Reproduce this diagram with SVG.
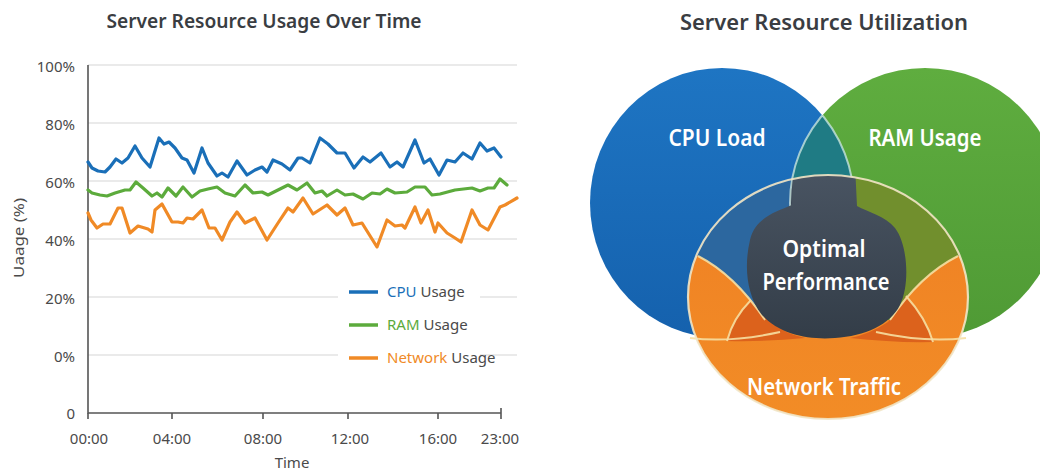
<svg xmlns="http://www.w3.org/2000/svg" width="1040" height="472" viewBox="0 0 1040 472">
<style>
.title{font-family:"Noto Sans","Open Sans",sans-serif;font-weight:600;fill:#3a3d42;text-anchor:middle}
.ax{font-family:"Noto Sans","Open Sans",sans-serif;font-size:15px;fill:#4a4a4a}
.grid{stroke:#e3e3e3;stroke-width:1.5;fill:none}
.axis{stroke:#555;stroke-width:1.6;fill:none}
.ser{fill:none;stroke-width:3.2;stroke-linejoin:round;stroke-linecap:round}
.leg{font-family:"Noto Sans","Open Sans",sans-serif;font-size:15px;fill:#4a4a4a}
.vl{font-family:"Noto Sans","Open Sans",sans-serif;font-weight:600;fill:#ffffff;text-anchor:middle}
.glow{fill:none;stroke:#f6dfa2;stroke-width:2;opacity:.9}
</style>
<defs>
<clipPath id="cBlue"><ellipse cx="722" cy="203" rx="132" ry="135"/></clipPath>
<clipPath id="cGreen"><ellipse cx="925" cy="203" rx="135" ry="135"/></clipPath>
<clipPath id="cOrange"><ellipse cx="828" cy="297" rx="140" ry="122"/></clipPath>
<clipPath id="cCap"><path d="M660,150 L660,248 L698,256 Q735,275 765,320 L890,320 Q920,275 958,256 L1000,248 L1000,150 Z"/></clipPath>
<linearGradient id="gBlue" x1="0" y1="0" x2="0" y2="1"><stop offset="0" stop-color="#1e75c3"/><stop offset="1" stop-color="#1561ad"/></linearGradient>
<linearGradient id="gGreen" x1="0" y1="0" x2="0" y2="1"><stop offset="0" stop-color="#5fad3f"/><stop offset="1" stop-color="#4f9a35"/></linearGradient>
<linearGradient id="gOrange" x1="0" y1="0" x2="0" y2="1"><stop offset="0" stop-color="#ef8024"/><stop offset="1" stop-color="#f28c26"/></linearGradient>
<linearGradient id="gSlate" x1="0" y1="0" x2="0" y2="1"><stop offset="0" stop-color="#4a5563"/><stop offset="1" stop-color="#333d48"/></linearGradient>
</defs>
<rect width="1040" height="472" fill="#ffffff"/>

<g id="line-chart">
<text class="title" x="264" y="28" font-size="19" textLength="315" lengthAdjust="spacingAndGlyphs">Server Resource Usage Over Time</text>
<g id="grid">
<line class="grid" x1="88" y1="65" x2="517" y2="65"/>
<line class="grid" x1="88" y1="123" x2="517" y2="123"/>
<line class="grid" x1="88" y1="181" x2="517" y2="181"/>
<line class="grid" x1="88" y1="239" x2="517" y2="239"/>
<line class="grid" x1="88" y1="297" x2="517" y2="297"/>
<line class="grid" x1="88" y1="355" x2="517" y2="355"/>
</g>
<g id="axes">
<path class="axis" d="M88,65 V413 H501"/>
<path class="axis" d="M88,413 v6 M172,413 v6 M263,413 v6 M348,413 v6 M438,413 v6 M501,408 v11"/>
</g>
<g id="y-labels" class="ax" text-anchor="end">
<text x="75" y="72">100%</text>
<text x="75" y="130">80%</text>
<text x="75" y="188">60%</text>
<text x="75" y="246">40%</text>
<text x="75" y="304">20%</text>
<text x="75" y="362">0%</text>
<text x="75" y="419">0</text>
</g>
<g id="x-labels" class="ax" text-anchor="middle">
<text x="89" y="444">00:00</text>
<text x="172" y="444">04:00</text>
<text x="263" y="444">08:00</text>
<text x="350" y="444">12:00</text>
<text x="438" y="444">16:00</text>
<text x="500" y="444">23:00</text>
</g>
<text class="ax" x="292" y="468" text-anchor="middle" font-size="16">Time</text>
<text class="ax" transform="translate(24,238) rotate(-90)" text-anchor="middle" font-size="16" textLength="80" lengthAdjust="spacingAndGlyphs">Uaage (%)</text>
<g id="series">
<polyline class="ser" stroke="#f08a26" points="88,213 91,220 97,228 103,224 110,224 118,208 122,208 130,233 138,226 148,229 152,232 155,210 162,204 172,222 178,222 183,223 187,218 193,219 202,210 209,228 215,228 222,240 230,222 237,212 245,223 255,218 267,240 278,223 288,208 293,212 303,198 313,214 327,205 337,215 345,208 353,225 362,223 367,231 377,247 387,220 395,226 402,225 405,228 415,207 421,223 428,210 435,232 438,223 447,233 455,238 461,242 472,210 480,225 488,230 500,207 505,205 517,198"/>
<polyline class="ser" stroke="#5cab3c" points="88,190 92,193 100,195 107,196 115,193 125,190 130,190 136,182 143,188 152,196 157,193 162,197 168,188 176,196 183,187 192,197 200,191 208,189 217,187 225,193 235,196 245,185 253,193 262,192 268,195 278,190 288,185 297,190 307,183 315,193 322,191 327,196 337,190 345,195 353,194 363,199 372,193 380,194 387,189 395,193 407,192 415,187 425,187 432,195 440,194 455,190 472,188 480,191 488,188 494,188 500,179 507,185"/>
<polyline class="ser" stroke="#1a6fb8" points="88,162 92,168 98,171 105,172 110,167 116,159 122,163 128,158 135,146 142,158 150,167 159,138 164,144 169,142 175,148 182,158 187,160 194,173 202,148 208,163 217,176 222,173 228,177 237,161 247,175 255,170 262,167 267,172 273,160 282,164 290,170 298,158 302,158 310,163 320,138 328,144 337,153 345,153 354,168 363,157 370,162 381,153 390,167 397,162 403,167 415,140 424,163 430,159 439,175 447,160 455,162 463,153 472,159 480,143 487,151 494,148 501,157"/>
</g>
<g id="legend">
<rect x="338" y="280" width="142" height="90" fill="#ffffff"/>
<line x1="349" y1="292" x2="378" y2="292" stroke="#1a6fb8" stroke-width="3.5"/>
<line x1="349" y1="325" x2="378" y2="325" stroke="#5cab3c" stroke-width="3.5"/>
<line x1="349" y1="358" x2="378" y2="358" stroke="#f08a26" stroke-width="3.5"/>
<text class="leg" x="387" y="297"><tspan fill="#1a6fb8">CPU</tspan> Usage</text>
<text class="leg" x="387" y="330"><tspan fill="#5cab3c">RAM</tspan> Usage</text>
<text class="leg" x="387" y="363"><tspan fill="#f08a26">Network</tspan> Usage</text>
</g>
</g>

<g id="venn">
<text class="title" x="824" y="30" font-size="21" textLength="288" lengthAdjust="spacingAndGlyphs">Server Resource Utilization</text>
<g id="cpu-load">
<ellipse cx="722" cy="203" rx="132" ry="135" fill="url(#gBlue)"/>
</g>
<g id="ram-usage">
<ellipse cx="925" cy="203" rx="135" ry="135" fill="url(#gGreen)"/>
<g clip-path="url(#cBlue)"><ellipse cx="925" cy="203" rx="135" ry="135" fill="#1f7b84"/></g>
</g>
<g id="network-traffic">
<ellipse cx="828" cy="297" rx="140" ry="122" fill="url(#gOrange)"/>
<g clip-path="url(#cOrange)">
<g clip-path="url(#cCap)">
<ellipse cx="722" cy="203" rx="132" ry="135" fill="#2c679f"/>
<g clip-path="url(#cGreen)"><rect x="660" y="150" width="340" height="200" fill="#718f2d"/></g>
<g clip-path="url(#cBlue)"><ellipse cx="925" cy="203" rx="135" ry="135" fill="#3c4755"/></g>
</g>
<path d="M727,341 Q733,318 751,300 Q758,312 768,320 Q785,334 805,338 Q765,342 727,341 Z" fill="#dc621c"/>
<path d="M933,342 Q926,318 906,296 Q898,312 888,322 Q870,334 850,338 Q895,343 933,342 Z" fill="#dc621c"/>
</g>
</g>
<g id="outlines">
<g clip-path="url(#cBlue)"><ellipse cx="925" cy="203" rx="135" ry="135" fill="none" stroke="#cfe8e6" stroke-width="2" opacity=".75"/></g>
<g clip-path="url(#cGreen)"><ellipse cx="722" cy="203" rx="132" ry="135" fill="none" stroke="#cfe8e6" stroke-width="2" opacity=".75"/></g>
<path class="glow" d="M698,256 Q735,275 765,320 M958,256 Q920,275 890,320"/>
<path class="glow" d="M690,338 Q730,343 780,332 M966,338 Q925,343 876,332"/>
<path class="glow" d="M727,341 Q733,318 751,300 M933,342 Q926,318 906,296"/>
</g>
<g id="optimal-performance">
<g clip-path="url(#cOrange)">
<path d="M793,165 L792,205 C775,212 755,218 750,240 C744,265 746,295 762,315 C780,335 810,340 835,338 C865,336 890,325 900,305 C910,285 908,245 895,228 C885,216 868,212 857,206 L855,165 Z" fill="url(#gSlate)"/>
</g>
</g>
<ellipse cx="828" cy="297" rx="140" ry="122" fill="none" stroke="#f1e6c6" stroke-width="2.2" opacity=".9"/>
<text class="vl" x="717" y="146" font-size="24" textLength="97" lengthAdjust="spacingAndGlyphs">CPU Load</text>
<text class="vl" x="925" y="146" font-size="24" textLength="113" lengthAdjust="spacingAndGlyphs">RAM Usage</text>
<text class="vl" x="824" y="257" font-size="23" textLength="83" lengthAdjust="spacingAndGlyphs">Optimal</text>
<text class="vl" x="826" y="290" font-size="23" textLength="127" lengthAdjust="spacingAndGlyphs">Performance</text>
<text class="vl" x="824" y="395" font-size="23" textLength="154" lengthAdjust="spacingAndGlyphs">Network Traffic</text>
</g>
</svg>
